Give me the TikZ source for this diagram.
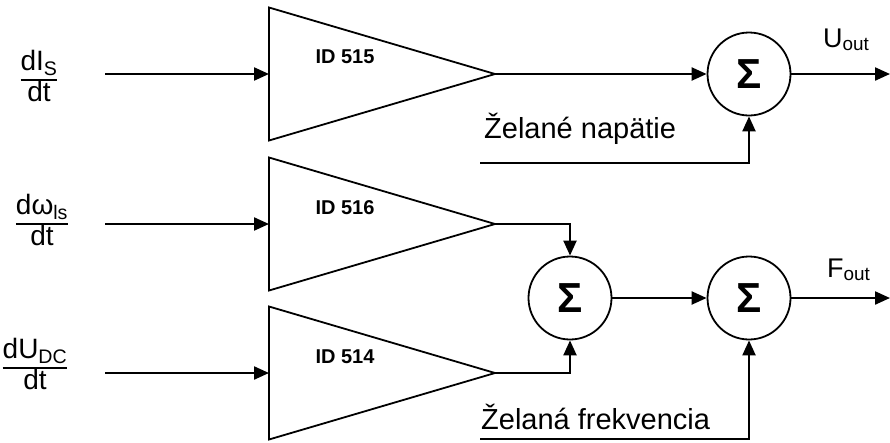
\documentclass[tikz,border=0pt]{standalone}
\usepackage{fontspec}
\setmainfont{Liberation Sans}
\usetikzlibrary{arrows.meta,shapes.geometric,positioning}
\setlength{\arrayrulewidth}{1.6pt}

\begin{document}
\begin{tikzpicture}[x=1pt, y=-1pt]
% STYLES
\tikzset{%
    amp/.style={%
    isosceles triangle,
    isosceles triangle stretches,
    draw,
    line width=1.8pt,
    fill=white,
    inner sep=0pt,
    outer sep=0pt,
    minimum width=133pt,
    minimum height=226pt}
    }
\tikzset{%
    sum/.style={%
    circle,
    draw,
    line width=1.8pt,
    fill=white,
    inner sep=0pt,
    minimum size=83pt,
    font=\fontsize{42}{42}\selectfont\bfseries}
    }
\tikzset{%
    sig/.style={%
    line width=2.2pt,
    -{Triangle[length=15pt,width=13pt]}}
    }
\tikzset{idtext/.style={font=\fontsize{20}{20}\selectfont\bfseries, inner sep=0pt}}
\tikzset{frac/.style={font=\fontsize{28}{30}\selectfont, inner sep=0pt}}
\tikzset{txt/.style={font=\fontsize{29}{32}\selectfont, inner sep=0pt}}
\tikzset{outtext/.style={font=\fontsize{27}{29}\selectfont, inner sep=0pt, anchor=base west}}

\useasboundingbox (0,0) rectangle (890,442);

% Draw amplifiers
\node [amp, anchor=apex] (amp1) at (495,74) {};
\node [amp, anchor=apex] (amp2) at (495,224) {};
\node [amp, anchor=apex] (amp3) at (495,373) {};
\node [idtext] (id515) at (345,57) {ID 515};
\node [idtext] (id516) at (345,208) {ID 516};
\node [idtext] (id514) at (345,357) {ID 514};

% Draw summing junctions
\node [sum] (sumU) at (749,74) {Σ};
\node [sum] (sumA) at (570,298) {Σ};
\node [sum] (sumF) at (749,298) {Σ};

% Inputs
\node [frac] (dIs) at (39,80) {\begin{tabular}{@{}c@{}}dI\textsubscript{S}\\\hline dt\end{tabular}};
\node [frac] (dwls) at (42,224) {\begin{tabular}{@{}c@{}}dω\textsubscript{ls}\\\hline dt\end{tabular}};
\node [frac] (dUdc) at (35,368) {\begin{tabular}{@{}c@{}}dU\textsubscript{DC}\\\hline dt\end{tabular}};
\coordinate (in1) at (105,74);
\coordinate (in2) at (105,224);
\coordinate (in3) at (105,373);
\coordinate (nap) at (480,163);
\coordinate (frek) at (480,439);
\coordinate (Uout) at (890,74);
\coordinate (Fout) at (890,298);

% Texts
\node [txt, anchor=base west] (napText) at (484,138) {Želané napätie};
\node [txt, anchor=base west] (frekText) at (481,429) {Želaná frekvencia};
\node [outtext] (UoutText) at (823,47) {U\textsubscript{out}};
\node [outtext] (FoutText) at (827,277) {F\textsubscript{out}};

% Draw the links
\path[sig]
(in1) edge (amp1.west)
(in2) edge (amp2.west)
(in3) edge (amp3.west)
(amp1.apex) edge (sumU)
(sumA) edge (sumF)
(sumU) edge (Uout)
(sumF) edge (Fout);
\draw[sig] (amp2.apex) -| (sumA);
\draw[sig] (amp3.apex) -| (sumA);
\draw[sig] (nap) -| (sumU);
\draw[sig] (frek) -| (sumF);

\end{tikzpicture}
\end{document}
